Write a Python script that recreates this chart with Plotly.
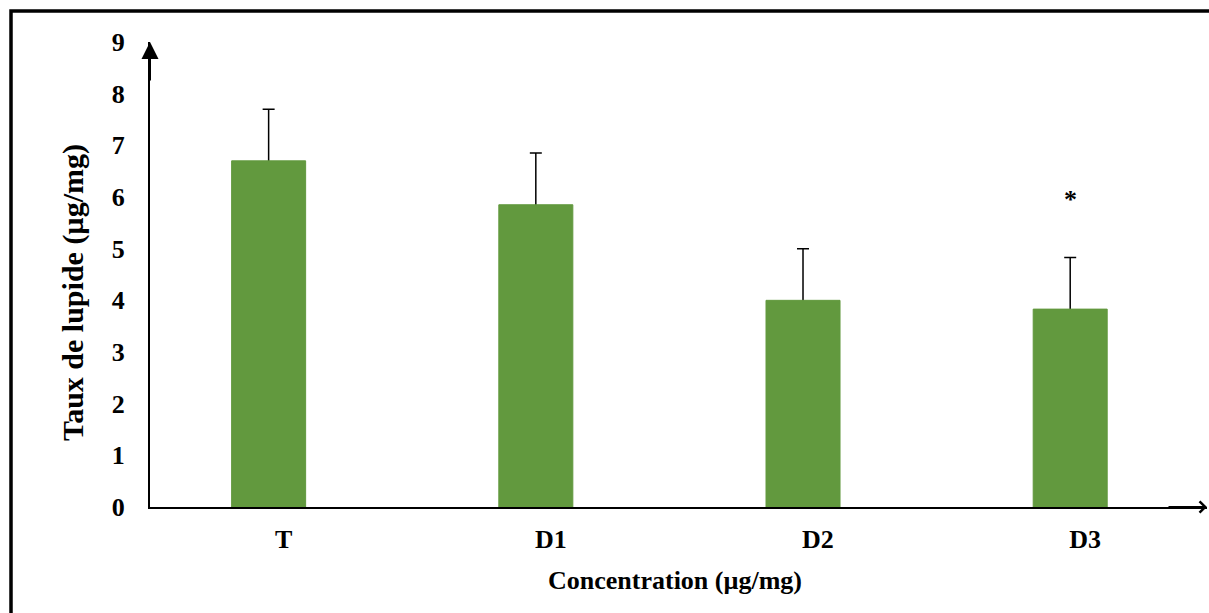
import plotly.graph_objects as go

# Lipid content per treatment group (mean and standard deviation, µg/mg)
categories = ["T", "D1", "D2", "D3"]
lipid_mean = [6.7, 5.85, 4.0, 3.83]
lipid_sd = [1.0, 1.0, 1.0, 1.0]
y_ticks = [0, 1, 2, 3, 4, 5, 6, 7, 8, 9]

# Significance marker above the treated group
sig_category = "D3"
sig_level = 5.95

BAR_COLOR = "#62993E"
FONT = "Liberation Serif"
BAR_WIDTH = 0.277
BAR_OFFSET = -0.1945  # bars sit slightly left of their category label

fig = go.Figure()

# Error bars drawn first; the bars drawn over them hide the lower half
fig.add_trace(go.Bar(
    x=categories, y=lipid_mean, width=BAR_WIDTH, offset=BAR_OFFSET,
    marker=dict(color="rgba(0,0,0,0)", line=dict(width=0)),
    error_y=dict(type="data", array=lipid_sd,
                 color="black", thickness=1.5, width=6),
    hoverinfo="skip", showlegend=False,
))
fig.add_trace(go.Bar(
    x=categories, y=lipid_mean, width=BAR_WIDTH, offset=BAR_OFFSET,
    marker=dict(color=BAR_COLOR, line=dict(width=1, color=BAR_COLOR)),
    showlegend=False,
))

tick_font = dict(family=FONT, size=26, weight="bold", color="black")

fig.update_layout(
    width=1209, height=613,
    margin=dict(l=150, r=2, t=42, b=106),
    paper_bgcolor="white", plot_bgcolor="white",
    barmode="overlay",
    font=dict(family=FONT, color="black", size=26, weight="bold"),
    xaxis=dict(
        type="category", range=[-0.5, 3.456],
        showline=True, linecolor="black", linewidth=2,
        showgrid=False, zeroline=False, ticks="",
        ticklabelstandoff=8,
        tickfont=tick_font,
    ),
    yaxis=dict(
        range=[0, 9], tickvals=y_ticks,
        showline=True, linecolor="black", linewidth=2,
        showgrid=False, zeroline=False, ticks="",
        ticklabelstandoff=18,
        tickfont=tick_font,
    ),
    annotations=[
        # arrowheads on the axes
        dict(xref="paper", yref="paper", x=0, y=1, ax=0, ay=40,
             showarrow=True, arrowhead=2, arrowsize=1.7, arrowwidth=2,
             arrowcolor="black", text=""),
        dict(xref="paper", yref="paper", x=1, y=0, ax=-40, ay=0,
             showarrow=True, arrowhead=4, arrowsize=1.1, arrowwidth=2,
             arrowcolor="black", text=""),
        # axis titles
        dict(xref="paper", yref="paper", x=0.497, y=0, yshift=-73,
             text="Concentration (µg/mg)", showarrow=False,
             xanchor="center", yanchor="middle",
             font=dict(family=FONT, size=26, weight="bold", color="black")),
        dict(xref="paper", yref="paper", x=0, xshift=-77, y=0.46,
             text="Taux de lupide (µg/mg)", showarrow=False, textangle=-90,
             xanchor="center", yanchor="middle",
             font=dict(family=FONT, size=30, weight="bold", color="black")),
        # significance marker, centred over the bar
        dict(x=sig_category, y=sig_level, xshift=-15, text="*", showarrow=False,
             xanchor="center", yanchor="middle",
             font=dict(family=FONT, size=26, weight="bold", color="black")),
    ],
    shapes=[
        # frame around the figure
        dict(type="rect", xref="paper", yref="paper",
             x0=-0.1315, x1=1.01, y0=-0.25, y1=1.0667,
             line=dict(color="black", width=3.5), fillcolor="rgba(0,0,0,0)",
             layer="above"),
    ],
)

fig.write_html("out.html")
